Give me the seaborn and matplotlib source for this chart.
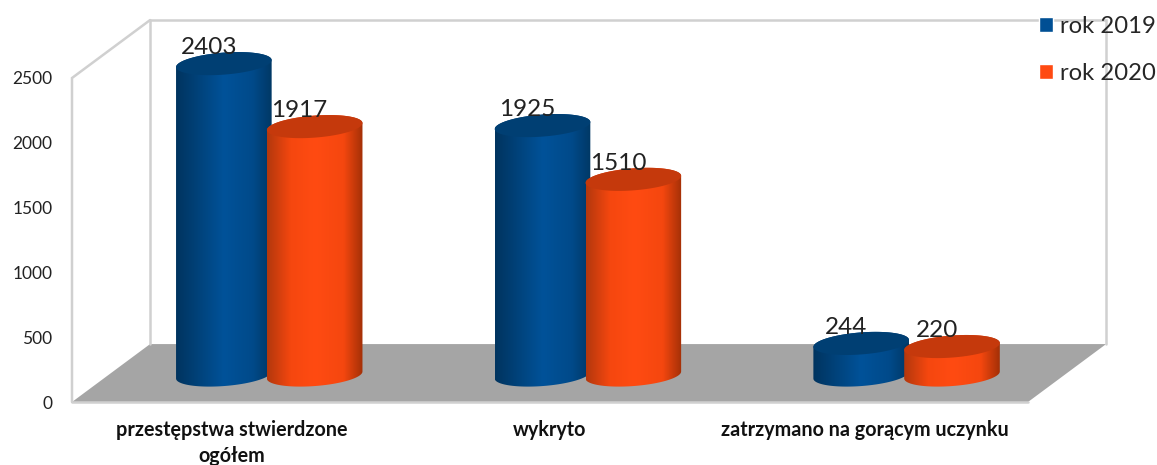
import numpy as np
import pandas as pd
import matplotlib
matplotlib.use("Agg")
import matplotlib.pyplot as plt
import seaborn as sns
from matplotlib.colors import LinearSegmentedColormap
from matplotlib.patches import PathPatch, Polygon
from matplotlib.path import Path
from matplotlib.transforms import Affine2D

categories = ["przestępstwa stwierdzone\nogółem", "wykryto", "zatrzymano na gorącym uczynku"]
series_names = ["rok 2019", "rok 2020"]
values_2019 = [2403, 1925, 244]
values_2020 = [1917, 1510, 220]
y_ticks = [0, 500, 1000, 1500, 2000, 2500]

colors = {"rok 2019": "#004f94", "rok 2020": "#ff4a12"}
cap_colors = {"rok 2019": "#003f73", "rok 2020": "#c5390c"}
body_stops = {
    "rok 2019": [(0, "#00345f"), (0.5, "#005299"), (0.8, "#004a8a"), (1, "#003865")],
    "rok 2020": [(0, "#b3380d"), (0.25, "#f5470f"), (0.5, "#ff4b12"), (0.8, "#f5470f"), (1, "#a33007")],
}

# fake 3D: depth of the box and where the cylinders stand in it
DEPTH_X = 0.245
DEPTH_Y = 447
BASE_X = 0.119
BASE_Y = 208
CYL_W = 0.3
CAP_H = 85
CAP_TILT = 27
WALL = "#d0d0d0"


def ellipse_points(cx, cy, half_w, t):
    return np.column_stack([
        cx + half_w * np.cos(t),
        cy + CAP_H * np.sin(t) + CAP_TILT * np.cos(t),
    ])


def draw_cylinder(ax, cx, height, name, z):
    half_w = CYL_W / 2
    top = BASE_Y + height

    lower = ellipse_points(cx, BASE_Y, half_w, np.linspace(np.pi, 2 * np.pi, 60))
    upper = ellipse_points(cx, top, half_w, np.linspace(0, np.pi, 60))
    outline = PathPatch(Path(np.vstack([lower, upper, lower[:1]]), closed=True),
                        fc="none", ec="none", transform=ax.transData, zorder=z, clip_on=False)
    ax.add_patch(outline)

    cmap = LinearSegmentedColormap.from_list(name, body_stops[name])
    grad = cmap(np.linspace(0, 1, 256))[:, :3].reshape(1, 256, 3)
    im = ax.imshow(grad, extent=[cx - half_w, cx + half_w, BASE_Y - 200, top + 200],
                   aspect="auto", interpolation="bilinear", zorder=z)
    im.set_clip_box(ax.figure.bbox)
    im.set_clip_path(outline)

    cap = ellipse_points(cx, top, half_w, np.linspace(0, 2 * np.pi, 120))
    ax.add_patch(Polygon(cap, closed=True, fc=cap_colors[name], ec="none",
                         zorder=z + 0.1, clip_on=False))


def main():
    sns.set_theme(style="white")
    plt.rcParams["font.family"] = ["Lato", "DejaVu Sans"]

    df = pd.DataFrame({
        "category": categories * 2,
        "series": np.repeat(series_names, len(categories)),
        "value": values_2019 + values_2020,
    })

    fig = plt.figure(figsize=(11.57, 4.65), dpi=100)
    ax = fig.add_axes([72 / 1157, (465 - 402) / 465, 956 / 1157, 324 / 465])

    sns.barplot(data=df, x="category", y="value", hue="series", hue_order=series_names,
                palette=colors, width=0.57, gap=0, saturation=1, ax=ax)

    sns.move_legend(
        ax, "upper left", bbox_to_anchor=(1032 / 1157, 1 - 9 / 465), bbox_transform=fig.transFigure,
        title=None, frameon=False, fontsize=17.2, handlelength=0.6, handleheight=0.6,
        handletextpad=0.3, labelspacing=1.1, borderpad=0.28, borderaxespad=0,
    )

    # floor and walls of the box
    x0, x1 = -0.5, 2.5
    ax.add_patch(Polygon([(x0, 0), (x1, 0), (x1 + DEPTH_X, DEPTH_Y), (x0 + DEPTH_X, DEPTH_Y)],
                         closed=True, fc="#a5a5a5", ec="none", zorder=1, clip_on=False))
    ymax = y_ticks[-1]
    wall_lines = [
        ([x0, x0, x0 + DEPTH_X], [0, ymax, ymax + DEPTH_Y]),
        ([x0 + DEPTH_X, x0 + DEPTH_X], [DEPTH_Y, ymax + DEPTH_Y]),
        ([x0 + DEPTH_X, x1 + DEPTH_X, x1 + DEPTH_X], [ymax + DEPTH_Y, ymax + DEPTH_Y, DEPTH_Y]),
        ([x0, x1], [0, 0]),
    ]
    for xs, ys in wall_lines:
        ax.plot(xs, ys, color=WALL, lw=1.8, clip_on=False, zorder=1.5, solid_joinstyle="miter")

    # turn each seaborn bar into a cylinder
    z = 3
    tops = []
    for container, name in zip(ax.containers, series_names):
        for bar in container:
            cx = bar.get_x() + bar.get_width() / 2 + BASE_X
            tops.append((cx, bar.get_height(), name))
            bar.set_visible(False)

    for cx, height, name in sorted(tops):
        draw_cylinder(ax, cx, height, name, z)
        ax.annotate(f"{height:.0f}", xy=(cx, BASE_Y + height), xytext=(-15, 16),
                    textcoords="offset pixels", ha="center", va="center",
                    fontsize=17.5, color="#222222", zorder=20, annotation_clip=False)
        z += 1

    ax.set_xlim(x0, x1)
    ax.set_ylim(0, ymax)
    ax.set_yticks(y_ticks)
    ax.set_xlabel("")
    ax.set_ylabel("")
    ax.tick_params(axis="y", length=0, pad=14, labelsize=12.5, labelcolor="#222222")
    ax.tick_params(axis="x", length=0, pad=13)
    for label in ax.get_xticklabels():
        label.set_fontsize(14.2)
        label.set_fontweight("bold")
        label.set_color("#111111")
        label.set_linespacing(1.4)
    last = ax.get_xticklabels()[-1]
    last.set_transform(last.get_transform() + Affine2D().translate(-4, 0))
    sns.despine(ax=ax, left=True, bottom=True)
    ax.patch.set_alpha(0)

    fig.savefig("out.png", dpi=100)
    plt.close(fig)


if __name__ == "__main__":
    main()
